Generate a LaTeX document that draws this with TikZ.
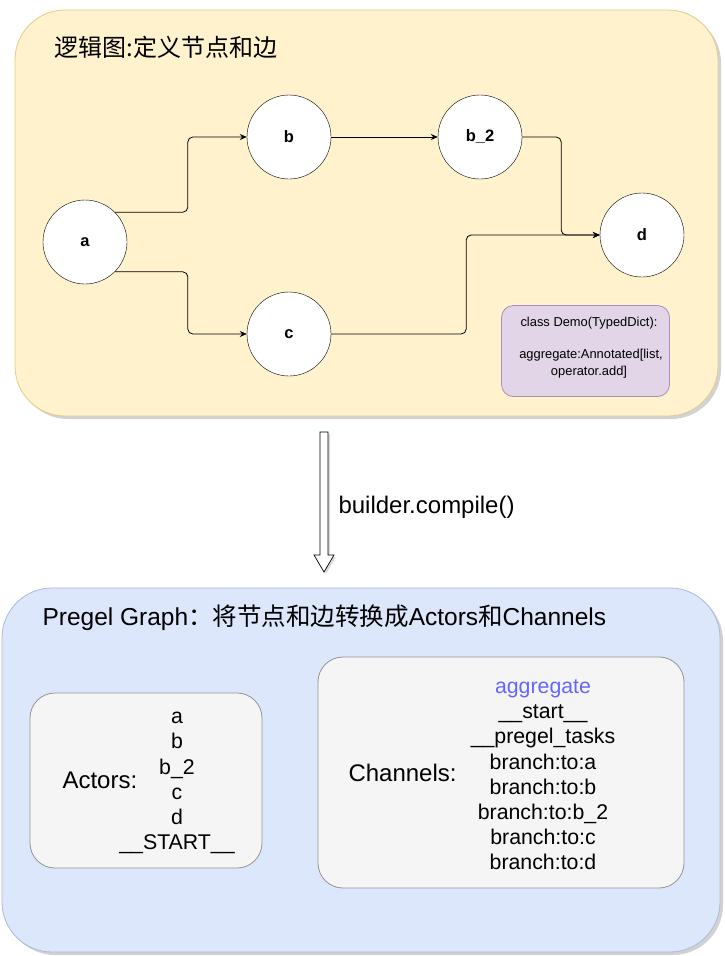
\documentclass[tikz,border=0pt]{standalone}
\usepackage{fontspec}
\setmainfont{Liberation Sans}
\newfontfamily\cjk{Noto Sans CJK SC}
\usetikzlibrary{arrows.meta,shadows}

\definecolor{logicfill}{HTML}{FFF2CC}
\definecolor{logicline}{HTML}{D6B656}
\definecolor{pregelfill}{HTML}{DCE7FB}
\definecolor{pregelline}{HTML}{6C8EBF}
\definecolor{statefill}{HTML}{E1D5E7}
\definecolor{stateline}{HTML}{9673A6}
\definecolor{cardfill}{HTML}{F5F5F5}
\definecolor{cardline}{HTML}{666666}
\definecolor{chanblue}{HTML}{6666FF}

\begin{document}
\begin{tikzpicture}[x=1pt, y=-1pt,
    panel/.style={draw, line width=0.8pt, rounded corners=50pt,
        drop shadow={shadow xshift=3pt, shadow yshift=-3pt, opacity=0.25, fill=black!70}},
    vertex/.style={draw, circle, fill=white, minimum size=84pt, inner sep=0pt,
        font=\fontsize{16.5}{19}\selectfont\bfseries},
    edge/.style={-{Stealth[length=7pt, width=6pt]}, line width=0.8pt, rounded corners=5pt},
    card/.style={draw=cardline!70, line width=0.8pt, fill=cardfill, rounded corners=25pt},
    heading/.style={anchor=west, font=\fontsize{24}{28}\selectfont},
    itemlist/.style={align=center, font=\fontsize{21.3}{25.2}\selectfont}
]
    \useasboundingbox (0,0) rectangle (724,956);

    % Logical graph
    \node[panel, draw=logicline!70, fill=logicfill, minimum width=703pt, minimum height=406pt] (logic) at (366.5,213) {};
    \node[heading, font=\cjk\fontsize{24}{28}\selectfont] (logictitle) at (51,47) {逻辑图:定义节点和边};

    % Graph nodes
    \node[vertex] (a) at (85,242) {a};
    \node[vertex] (b) at (289,137) {b};
    \node[vertex] (b2) at (480,137) {b\_2};
    \node[vertex] (c) at (289,334) {c};
    \node[vertex] (d) at (642,235) {d};

    % Edges
    \draw[edge] (a.45) -- ++(73,0) |- (b);
    \draw[edge] (a.-45) -- ++(73,0) |- (c);
    \draw[edge] (b) -- (b2);
    \draw[edge] (b2.east) -- ++(39,0) |- (d);
    \draw[edge] (c.east) -- ++(135,0) |- (d);

    % State schema
    \node[draw=stateline!80, fill=statefill, line width=0.8pt, rounded corners=12pt,
        minimum width=168pt, minimum height=91pt] (schema) at (585.5,351) {};
    \node[align=center, font=\fontsize{12.9}{17}\selectfont] (schematext) at (589,348) {
        class Demo(TypedDict):\\[15pt]
        \hspace*{4pt}aggregate:Annotated[list,\\
        operator.add]
    };

    % Compile arrow
    \filldraw[fill=white, draw=black, line width=0.7pt,
        drop shadow={shadow xshift=2pt, shadow yshift=-2pt, opacity=0.2, fill=black!70}]
        (320,432) -- (328,432) -- (328,555) -- (334,555) -- (324,572)
        -- (314,555) -- (320,555) -- cycle;
    \node[heading] (compile) at (335,507) {builder.compile()};

    % Pregel graph
    \node[panel, draw=pregelline!60, fill=pregelfill, minimum width=718pt, minimum height=364pt] (pregel) at (361,770) {};
    \node[heading, font=\fontsize{24.5}{28}\selectfont] (pregeltitle) at (39,618) {Pregel Graph{\cjk ：将节点和边转换成}Actors{\cjk 和}Channels};

    % Actors
    \node[card, minimum width=232pt, minimum height=175pt] (actors) at (146,780.5) {};
    \node[heading] (actorslabel) at (59,780) {Actors:};
    \node[itemlist] (actorlist) at (177,783) {a\\b\\b\_2\\c\\d\\\_\_START\_\_};

    % Channels
    \node[card, minimum width=366pt, minimum height=231pt] (channels) at (501,772.5) {};
    \node[heading] (channelslabel) at (345,773) {Channels:};
    \node[itemlist] (channellist) at (543,775) {
        \textcolor{chanblue}{aggregate}\\
        \_\_start\_\_\\
        \_\_pregel\_tasks\\
        branch:to:a\\
        branch:to:b\\
        branch:to:b\_2\\
        branch:to:c\\
        branch:to:d
    };
\end{tikzpicture}
\end{document}
